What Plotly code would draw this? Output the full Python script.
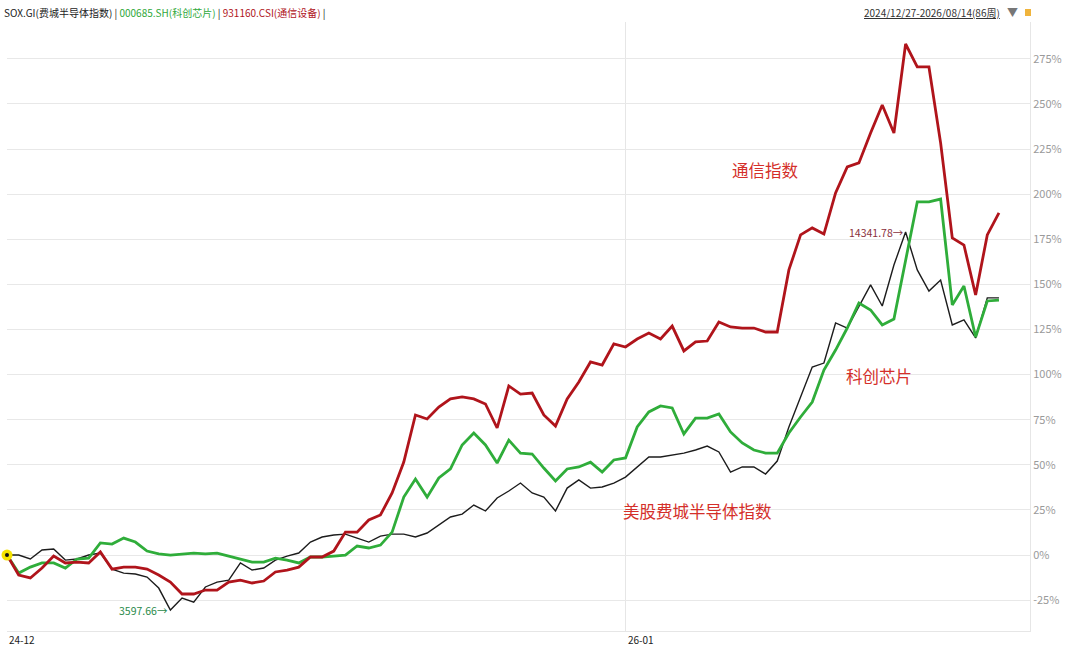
import plotly.graph_objects as go

# weekly index, 2024/12/27 - 2026/08/14
weeks = list(range(86))
x_ticks = [0, 53]
x_ticktext = ['24-12', '26-01']

# cumulative change in % since 2024/12/27
sox = [0, 0, -2.2, 2.8, 3.3, -2.8, -2.2, 0, 1.1, -7.8,
       -10.0, -10.5, -12.2, -18.3, -30.5, -23.8, -26.1, -17.7, -15.0, -13.9,
       -4.4, -8.3, -7.2, -2.8, -0.6, 1.1, 7.2, 10.0, 11.1, 11.6,
       9.4, 7.2, 10.5, 11.6, 11.6, 10.0, 12.2, 16.6, 21.1, 22.7,
       27.7, 24.4, 31.6, 35.5, 39.9, 34.4, 32.1, 24.4, 37.1, 41.6,
       37.1, 37.7, 39.9, 43.2, 48.8, 54.3, 54.3, 55.4, 56.5, 58.2,
       60.4, 57.1, 46.0, 48.8, 48.8, 44.9, 52.1, 71.0, 87.6, 104.2,
       106.4, 128.6, 125.8, 137.5, 149.7, 138.0, 160.7, 179.0, 158.0, 146.3,
       152.4, 127.5, 130.3, 120.3, 142.5, 142.5]

chips = [0, -10.0, -6.7, -4.4, -4.4, -7.2, -2.2, -1.7, 6.7, 6.1,
         9.4, 7.2, 2.2, 0.6, 0.0, 0.6, 1.1, 0.6, 1.1, -0.6,
         -2.2, -3.9, -3.9, -1.7, -2.8, -4.4, -1.1, -1.1, -0.6, 0.0,
         5.0, 3.9, 5.5, 12.7, 32.1, 42.1, 32.1, 42.7, 47.7, 61.0,
         67.6, 61.0, 51.0, 63.7, 56.5, 56.0, 48.2, 41.0, 47.7, 48.8,
         51.5, 46.0, 52.7, 53.8, 71.0, 79.3, 82.6, 81.5, 67.1, 75.9,
         75.9, 78.2, 68.2, 62.1, 58.2, 56.5, 56.5, 67.6, 76.5, 84.8,
         102.5, 113.6, 125.8, 139.7, 135.8, 127.5, 130.8, 163.5, 195.7, 195.7,
         197.3, 138.6, 149.1, 120.8, 140.8, 141.3]

telecom = [0, -11.1, -12.7, -7.2, -0.6, -4.4, -3.9, -4.4, 1.7, -7.8,
           -6.7, -6.7, -7.8, -11.1, -15.0, -21.6, -21.6, -19.4, -19.4, -15.0,
           -13.9, -15.5, -14.4, -9.4, -8.3, -6.7, -1.1, -1.1, 2.2, 12.7,
           12.7, 19.4, 22.2, 34.4, 51.5, 77.6, 75.4, 82.0, 86.5, 87.6,
           86.5, 83.7, 70.4, 93.7, 89.2, 89.8, 77.6, 71.5, 86.5, 95.9,
           107.0, 105.3, 117.0, 115.3, 119.7, 123.0, 119.7, 126.9, 113.1, 118.1,
           118.6, 129.2, 126.4, 125.8, 125.8, 123.6, 123.6, 158.0, 177.4, 181.3,
           177.9, 200.7, 215.1, 217.3, 233.9, 249.4, 233.9, 283.2, 270.5, 270.5,
           228.4, 175.7, 171.8, 144.1, 177.4, 189.6]

y_ticks = [-25, 0, 25, 50, 75, 100, 125, 150, 175, 200, 225, 250, 275]
y_ticktext = [f'{v}%' for v in y_ticks]

sox_high, sox_low = '14341.78', '3597.66'

# plot box in pixels (for placing texts)
L, R, T, B = 7, 1030, 22, 631
def px(x): return (x - L) / (R - L)
def py(y): return (B - y) / (B - T)

FONT = 'Noto Sans CJK SC, Arial, sans-serif'

fig = go.Figure()
fig.add_trace(go.Scatter(x=weeks, y=sox, mode='lines',
                         line=dict(color='#1c1c1c', width=1.4)))
fig.add_trace(go.Scatter(x=weeks, y=chips, mode='lines',
                         line=dict(color='#2fad3a', width=2.8)))
fig.add_trace(go.Scatter(x=weeks, y=telecom, mode='lines',
                         line=dict(color='#b0141b', width=2.8)))
# start marker
fig.add_trace(go.Scatter(x=[weeks[0]], y=[sox[0]], mode='markers', cliponaxis=False,
                         marker=dict(color='#f5e400', size=11)))
fig.add_trace(go.Scatter(x=[weeks[0]], y=[sox[0]], mode='markers', cliponaxis=False,
                         marker=dict(color='#111', size=4)))

i_hi = sox.index(max(sox))
i_lo = sox.index(min(sox))
fig.add_annotation(x=weeks[i_hi], y=sox[i_hi], text=sox_high + '→', showarrow=False,
                   xanchor='right', yanchor='middle', font=dict(size=10.5, color='#8a2f3c', family=FONT))
fig.add_annotation(x=weeks[i_lo], y=sox[i_lo], text=sox_low + '→', showarrow=False,
                   xanchor='right', yanchor='middle', font=dict(size=10.5, color='#2a8a4a', family=FONT))

# x tick labels, left aligned at the tick
for xv, tx in zip(x_ticks, x_ticktext):
    fig.add_annotation(x=xv, y=py(639), xref='x', yref='paper', text=tx, showarrow=False,
                       xanchor='left', yanchor='middle',
                       font=dict(size=10, color='#222', family=FONT))

# series labels
lab = dict(size=16.5, color='#d42f2a', family=FONT)
fig.add_annotation(x=px(730), y=py(170), xref='paper', yref='paper', text='通信指数',
                   showarrow=False, xanchor='left', yanchor='middle', font=lab)
fig.add_annotation(x=px(844), y=py(376), xref='paper', yref='paper', text='科创芯片',
                   showarrow=False, xanchor='left', yanchor='middle', font=lab)
fig.add_annotation(x=px(621), y=py(511), xref='paper', yref='paper', text='美股费城半导体指数',
                   showarrow=False, xanchor='left', yanchor='middle', font=lab)

# header line
fig.add_annotation(x=px(2), y=py(12), xref='paper', yref='paper', showarrow=False,
                   xanchor='left', yanchor='middle', font=dict(size=10, color='#222', family=FONT),
                   text='SOX.GI(费城半导体指数) | <span style="color:#2fa83a">000685.SH(科创芯片)</span>'
                        ' | <span style="color:#b0141b">931160.CSI(通信设备)</span> |')
fig.add_annotation(x=px(862), y=py(12), xref='paper', yref='paper', showarrow=False,
                   xanchor='left', yanchor='middle', font=dict(size=10, color='#333', family=FONT),
                   text='<u>2024/12/27-2026/08/14(86周)</u>')
fig.add_annotation(x=px(1012), y=py(12), xref='paper', yref='paper', showarrow=False,
                   xanchor='center', yanchor='middle', font=dict(size=11, color='#777'), text='▼')
fig.add_shape(type='rect', xref='paper', yref='paper', x0=px(1025), x1=px(1031),
              y0=py(16), y1=py(9), fillcolor='#f0b43c', line=dict(width=0))

fig.update_xaxes(range=[0, 87.66], tickvals=x_ticks, showticklabels=False,
                 showgrid=True, gridcolor='#e6e6e6', gridwidth=1, zeroline=False,
                 showline=True, linecolor='#e6e6e6', ticks='')
fig.update_yaxes(range=[-42.1, 295.4], side='right', tickvals=y_ticks, ticktext=y_ticktext,
                 showgrid=True, gridcolor='#e8e8e8', gridwidth=1, zeroline=False,
                 showline=True, linecolor='#e6e6e6', ticks='',
                 tickfont=dict(size=11, color='#9a9a9a', family=FONT))

fig.update_layout(width=1080, height=648, showlegend=False,
                  margin=dict(l=L, r=1080 - R, t=T, b=648 - B),
                  plot_bgcolor='white', paper_bgcolor='white',
                  font=dict(family=FONT))

fig.write_html('out.html', config={'displayModeBar': False},
               post_script="document.body.style.margin='0';")
